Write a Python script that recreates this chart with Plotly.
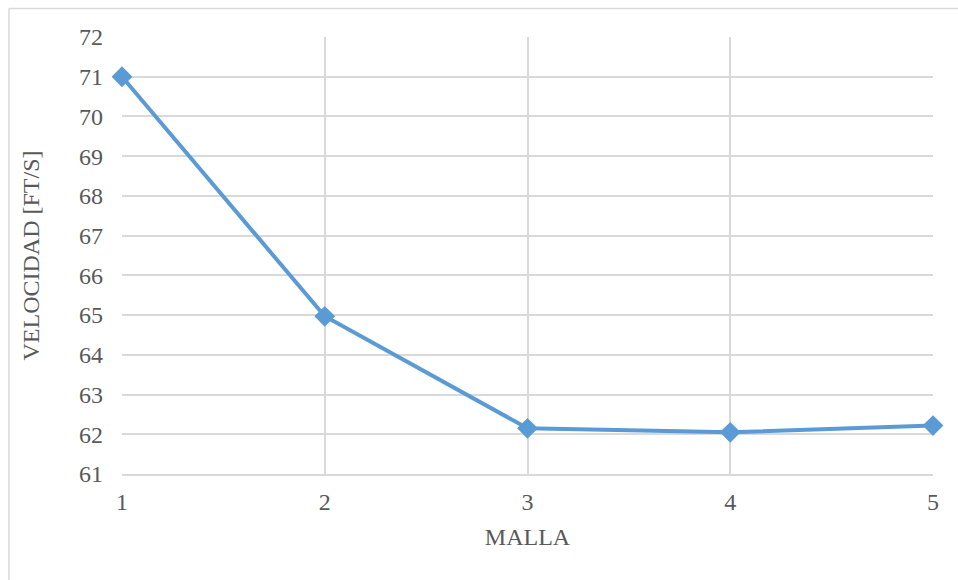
import plotly.graph_objects as go

# Mesh index vs. computed velocity
malla = [1, 2, 3, 4, 5]
velocidad = [71.0, 64.97, 62.15, 62.05, 62.22]

y_ticks = list(range(61, 73))

fig = go.Figure()
fig.add_trace(go.Scatter(
    x=malla,
    y=velocidad,
    mode="lines+markers",
    line=dict(color="#5b9bd5", width=4),
    marker=dict(symbol="diamond", size=16, color="#5b9bd5"),
    showlegend=False,
    cliponaxis=False,
))

font_family = "Liberation Serif"
text_font = dict(family=font_family, size=24, color="#595959")

fig.update_layout(
    width=958,
    height=580,
    margin=dict(l=122, r=25, t=37, b=106),
    paper_bgcolor="white",
    plot_bgcolor="white",
    font=text_font,
    xaxis=dict(
        range=[1, 5],
        tickvals=malla,
        showgrid=True,
        gridcolor="#d9d9d9",
        gridwidth=1.5,
        zeroline=False,
        showline=True,
        linecolor="#d9d9d9",
        linewidth=1.5,
        ticks="",
        ticklabelstandoff=5,
        tickfont=text_font,
        title=dict(text="MALLA", font=text_font, standoff=15),
    ),
    yaxis=dict(
        range=[61, 72],
        tickvals=y_ticks,
        showgrid=True,
        gridcolor="#d9d9d9",
        gridwidth=1.5,
        zeroline=False,
        showline=False,
        ticks="",
        ticklabelstandoff=18,
        tickfont=text_font,
        title=dict(text="VELOCIDAD [FT/S]", font=text_font, standoff=32),
    ),
    shapes=[
        # chart frame (top and left edges visible within the canvas)
        dict(type="line", xref="paper", yref="paper",
             x0=-0.1394, x1=1.2, y0=1.0652, y1=1.0652,
             line=dict(color="#d9d9d9", width=1.5)),
        dict(type="line", xref="paper", yref="paper",
             x0=-0.1394, x1=-0.1394, y0=-0.4, y1=1.0652,
             line=dict(color="#d9d9d9", width=1.5)),
    ],
)

fig.write_html("out.html")
